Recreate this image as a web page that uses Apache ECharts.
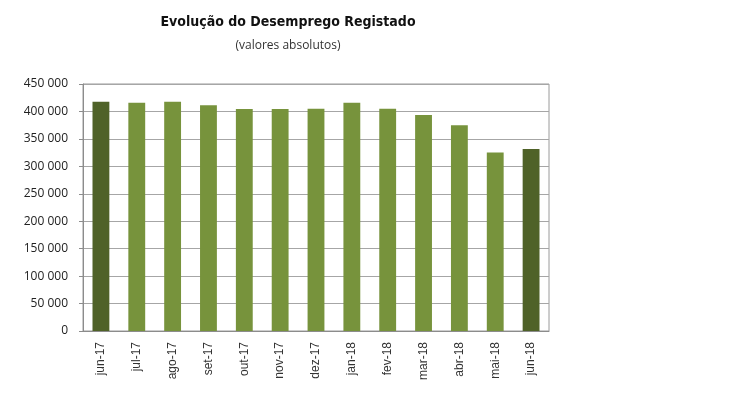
<!DOCTYPE html>
<html><head><meta charset="utf-8">
<script src="https://cdn.jsdelivr.net/npm/echarts@6/dist/echarts.min.js"></script>
<style>html,body{margin:0;padding:0;background:#fff}#c{width:750px;height:396px}</style>
</head><body><div id="c"></div>
<script>
const categories = ['jun-17','jul-17','ago-17','set-17','out-17','nov-17','dez-17','jan-18','fev-18','mar-18','abr-18','mai-18','jun-18'];
const values = [417600, 416000, 417700, 411500, 404500, 404500, 404800, 416000, 404800, 393300, 375000, 325000, 331600];
const highlighted = ['jun-17','jun-18'];
const yTicks = [0, 50000, 100000, 150000, 200000, 250000, 300000, 350000, 400000, 450000];
const titleText = 'Evolução do Desemprego Registado';
const subtitleText = '(valores absolutos)';

const chart = echarts.init(document.getElementById('c'));
chart.setOption({
  animation: false,
  title: [
    {text: titleText, left: 283, top: 10, textAlign: 'center',
     textStyle: {fontFamily: 'DejaVu Sans Condensed, DejaVu Sans', fontSize: 14, fontWeight: 'bold', color: '#111'}},
    {text: subtitleText, left: 283, top: 35, textAlign: 'center',
     textStyle: {fontFamily: 'Open Sans', fontSize: 12, fontWeight: 'normal', color: '#333'}}
  ],
  grid: {left: 83, right: 201, top: 84, bottom: 65, show: true, borderColor: '#9a9a9a', borderWidth: 1, containLabel: false},
  xAxis: {
    type: 'category', data: categories,
    axisLine: {lineStyle: {color: '#8c8c8c'}},
    axisTick: {show: false},
    axisLabel: {rotate: 90, margin: 11, fontFamily: 'Liberation Sans', fontSize: 12, color: '#333'}
  },
  yAxis: {
    type: 'value', min: yTicks[0], max: yTicks[yTicks.length-1], interval: 50000,
    axisLine: {show: true, lineStyle: {color: '#8c8c8c'}},
    axisTick: {show: true, length: 4, lineStyle: {color: '#8c8c8c'}},
    splitLine: {lineStyle: {color: '#a6a6a6'}},
    axisLabel: {margin: 15, fontFamily: 'Open Sans', fontSize: 12, color: '#222',
      formatter: v => String(v).replace(/\B(?=(\d{3})+(?!\d))/g, ' ')}
  },
  series: [{
    type: 'bar', barWidth: '47%',
    data: values.map((v, i) => ({value: v, itemStyle: {color: highlighted.includes(categories[i]) ? '#4f6228' : '#77933c'}}))
  }]
});
</script></body></html>
